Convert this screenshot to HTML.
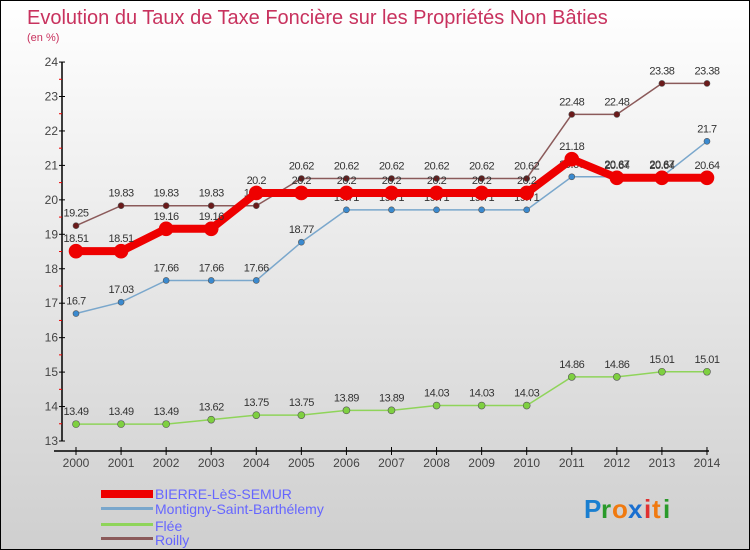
<!DOCTYPE html>
<html><head><meta charset="utf-8"><style>
body{margin:0}
#wrap{width:748px;height:548px;border:1px solid #000;background:linear-gradient(#fff,#cfcfcf);position:relative;font-family:"Liberation Sans",sans-serif;overflow:hidden}
</style></head><body>
<div id="wrap">
<svg id="chart" width="748" height="548">
<text x="26" y="23" font-size="20" fill="#c8325e">Evolution du Taux de Taxe Foncière sur les Propriétés Non Bâties</text>
<text x="26" y="40" font-size="11" fill="#c8325e">(en %)</text>
<g id="axes"></g><g id="series"></g>
<g>
<rect x="100" y="489" width="52" height="8" fill="#e00"/>
<text x="154" y="498" font-size="14" fill="#6666ff">BIERRE-LèS-SEMUR</text>
<rect x="100" y="506" width="52" height="3" fill="#7aa7cc"/>
<text x="154" y="513" font-size="14" fill="#6666ff">Montigny-Saint-Barthélemy</text>
<rect x="100" y="522" width="52" height="3" fill="#8fd45a"/>
<text x="154" y="530" font-size="14" fill="#6666ff">Flée</text>
<rect x="100" y="536" width="52" height="3" fill="#8b5a5a"/>
<text x="154" y="544" font-size="14" fill="#6666ff">Roilly</text>
</g>
<g font-size="26" font-weight="bold">
<text x="583" y="517" fill="#1a7fd0">P</text><text x="600" y="517" fill="#2a9a2a">r</text><text x="611" y="517" fill="#f07a10">o</text><text x="627" y="517" fill="#1a6fd0">x</text><text x="643" y="517" fill="#e03030">i</text><text x="651" y="517" fill="#f07a10">t</text><text x="662" y="517" fill="#2a9a2a">i</text>
</g>
</svg></div>
<script>
const years=[2000,2001,2002,2003,2004,2005,2006,2007,2008,2009,2010,2011,2012,2013,2014];
const yTicks=[13,14,15,16,17,18,19,20,21,22,23,24];
const bierre=[18.51,18.51,19.16,19.16,20.2,20.2,20.2,20.2,20.2,20.2,20.2,21.18,20.64,20.64,20.64];
const montigny=[16.7,17.03,17.66,17.66,17.66,18.77,19.71,19.71,19.71,19.71,19.71,20.67,20.67,20.67,21.7];
const flee=[13.49,13.49,13.49,13.62,13.75,13.75,13.89,13.89,14.03,14.03,14.03,14.86,14.86,15.01,15.01];
const rouilly=[19.25,19.83,19.83,19.83,19.83,20.62,20.62,20.62,20.62,20.62,20.62,22.48,22.48,23.38,23.38];
const NS="http://www.w3.org/2000/svg";
function xs(i){return 75+i*45.07;}
function ys(v){return 440-(v-13)*34.45;}
function mk(t,a,p){const e=document.createElementNS(NS,t);for(const k in a)e.setAttribute(k,a[k]);p.appendChild(e);return e;}
const ax=document.getElementById('axes');
const yl=mk('line',{x1:61,y1:61,x2:61,y2:440,stroke:'#000','stroke-width':1.5},ax);


yTicks.forEach(v=>{
 mk('line',{x1:58,x2:64,y1:ys(v),y2:ys(v),stroke:'#000'},ax);
 if(v<24)mk('line',{x1:58,x2:61,y1:ys(v+0.5),y2:ys(v+0.5),stroke:'#e00'},ax);
 const t=mk('text',{x:57,y:ys(v)+4,'font-size':12,fill:'#444','text-anchor':'end'},ax);t.textContent=v;
 
 
});
const xl=mk('line',{x1:53,y1:450,x2:708,y2:450,stroke:'#000','stroke-width':1.5},ax);


years.forEach((y,i)=>{
 mk('line',{x1:xs(i),x2:xs(i),y1:446,y2:454,stroke:'#000'},ax);
 const t=mk('text',{x:xs(i),y:466,'font-size':12,fill:'#444','text-anchor':'middle'},ax);t.textContent=y;
 
 
});
const sg=document.getElementById('series');
function draw(vals,name,col,dot,w,r){
 const g=mk('g',{},sg);
 
 
 mk('polyline',{points:vals.map((v,i)=>xs(i)+','+ys(v)).join(' '),fill:'none',stroke:col,'stroke-width':w},g);
 vals.forEach((v,i)=>{
  const c=mk('circle',{cx:xs(i),cy:ys(v),r:r,fill:dot,stroke:w>3?dot:'#555','stroke-width':0.6},g);
  
  
  const t=mk('text',{x:xs(i),y:ys(v)-9,'font-size':11,fill:'#333','text-anchor':'middle','letter-spacing':'-0.5'},g);
  t.textContent=String(v);
  
  
 });
}
draw(rouilly,'rouilly','#8b5a5a','#6b1a1a',1.5,3);
draw(montigny,'montigny','#7aa7cc','#3a8ad0',1.5,3);
draw(flee,'flee','#8fd45a','#7ed040',1.5,3.5);
draw(bierre,'bierre','#e00','#e00',8,7);
</script>
</body></html>
